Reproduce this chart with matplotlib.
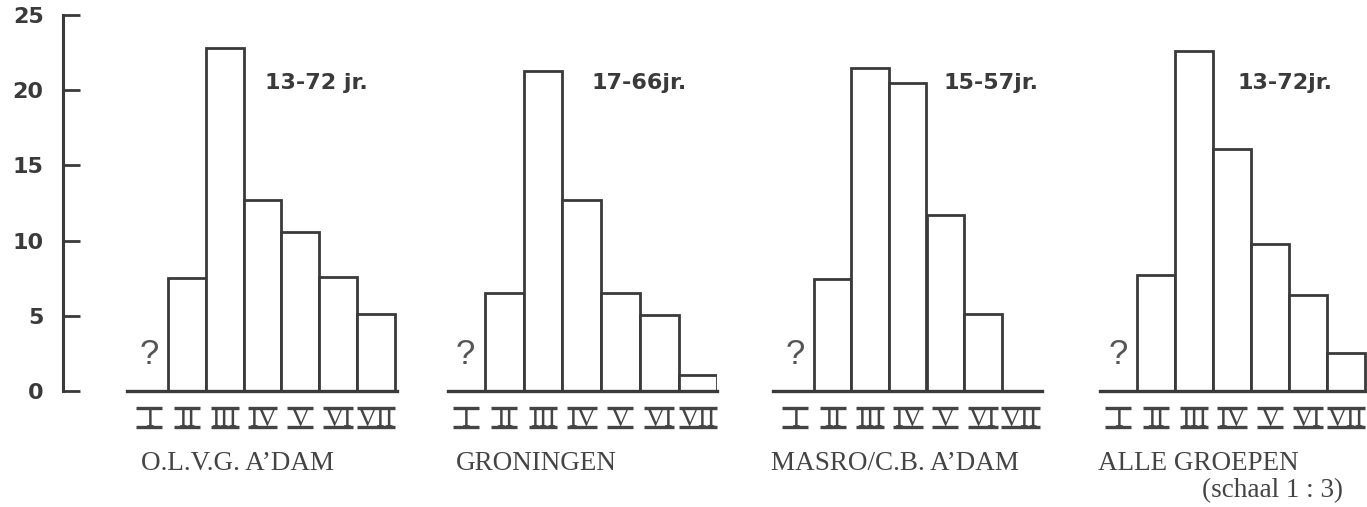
import matplotlib
matplotlib.use('Agg')
import matplotlib.pyplot as plt
from matplotlib.transforms import blended_transform_factory
from matplotlib.lines import Line2D

# gegevens (klasse I onbekend -> '?')
klassen = ['I', 'II', 'III', 'IV', 'V', 'VI', 'VII']
groepen = ['O.L.V.G. A\u2019DAM', 'GRONINGEN', 'MASRO/C.B. A\u2019DAM', 'ALLE GROEPEN']
leeftijden = ['13-72 jr.', '17-66jr.', '15-57jr.', '13-72jr.']
olvg = [7.5, 22.8, 12.7, 10.6, 7.6, 5.1]        # klasse II..VII
groningen = [6.5, 21.3, 12.7, 6.5, 5.05, 1.06]
masro = [7.45, 21.5, 20.5, 11.7, 5.1, 0]
alle = [7.7, 22.6, 16.1, 9.8, 6.4, 2.5]
reeksen = [olvg, groningen, masro, alle]
y_ticks = [0, 5, 10, 15, 20, 25]

W, H = 1367, 507
inkt = '#3a3a3a'
grijs = '#444444'

def fx(px):
    return px / W

def fy(py):
    return 1 - py / H

fig = plt.figure(figsize=(W / 100, H / 100), dpi=100)
fig.patch.set_facecolor('white')

y_nul, y_top = 391, 15   # pixel rijen van 0 en 25

# losse y-as links
ay = fig.add_axes([fx(63), fy(y_nul), 0.0001, (y_nul - y_top) / H])
ay.set_ylim(0, 25)
ay.set_xticks([])
ay.set_yticks(y_ticks)
for s in ['top', 'right', 'bottom']:
    ay.spines[s].set_visible(False)
ay.spines['left'].set_linewidth(2.2)
ay.spines['left'].set_color(inkt)
ay.tick_params(axis='y', direction='in', length=12, width=2, pad=14,
               colors=inkt, labelsize=16)
for lab in ay.get_yticklabels():
    lab.set_fontweight('bold')
    lab.set_family('DejaVu Sans')
ay.patch.set_visible(False)

# layout per paneel: basislijn links/rechts, linkerrand balk I, balkbreedte
layout = [
    (127, 397, 130.2, 37.8),
    (448, 717, 446.3, 38.7),
    (773, 1042, 776.5, 37.5),
    (1100, 1367, 1099, 38.0),
]
vraag_y = 2.4
leeftijd_x = [265, 592, 943, 1237]
groep_x = [141, 456, 771, 1098]

numeralen = []
for i, (bl, br, il, w) in enumerate(layout):
    ax = fig.add_axes([fx(bl), fy(y_nul), (br - bl) / W, (y_nul - y_top) / H])
    ax.set_xlim(-0.5 + (bl - il) / w, -0.5 + (br - il) / w)
    ax.set_ylim(0, 25)
    ax.bar(range(1, 7), reeksen[i], width=1, color='white',
           edgecolor=inkt, linewidth=2.0, zorder=2)
    for s in ['top', 'right', 'left']:
        ax.spines[s].set_visible(False)
    ax.spines['bottom'].set_linewidth(2.4)
    ax.spines['bottom'].set_color(inkt)
    ax.spines['bottom'].set_zorder(3)
    ax.set_xticks([])
    ax.set_yticks([])
    ax.patch.set_visible(False)

    ax.text(0, vraag_y, '?', ha='center', va='center', fontsize=25,
            family='Liberation Sans', color='#555555')

    # romeinse cijfers onder de balken
    tr = blended_transform_factory(ax.transData, fig.transFigure)
    for k, kl in enumerate(klassen):
        t = ax.text(k, fy(426), kl, transform=tr, ha='center', va='baseline',
                    fontsize=19, family='Liberation Serif', color=grijs)
        numeralen.append(t)

    fig.text(fx(leeftijd_x[i]), fy(83), leeftijden[i], va='center',
             fontsize=16, fontweight='bold', family='DejaVu Sans', color=inkt)
    fig.text(fx(groep_x[i]), fy(470), groepen[i], va='baseline',
             fontsize=19.5, family='Liberation Serif', color=grijs)

fig.text(fx(1202), fy(497), '(schaal 1 : 3)', va='baseline',
         fontsize=19.5, family='Liberation Serif', color=grijs)

# balk boven en onder elk cijfer
fig.canvas.draw()
for t in numeralen:
    bb = t.get_window_extent()
    cx = (bb.x0 + bb.x1) / 2
    half = max((bb.x1 - bb.x0) / 2 + 1, 13)
    for py in (407.5, 427):
        fig.add_artist(Line2D([(cx - half) / W, (cx + half) / W], [fy(py), fy(py)],
                              color=grijs, linewidth=2.4, solid_capstyle='butt',
                              transform=fig.transFigure))

fig.savefig('out.png', dpi=100)
